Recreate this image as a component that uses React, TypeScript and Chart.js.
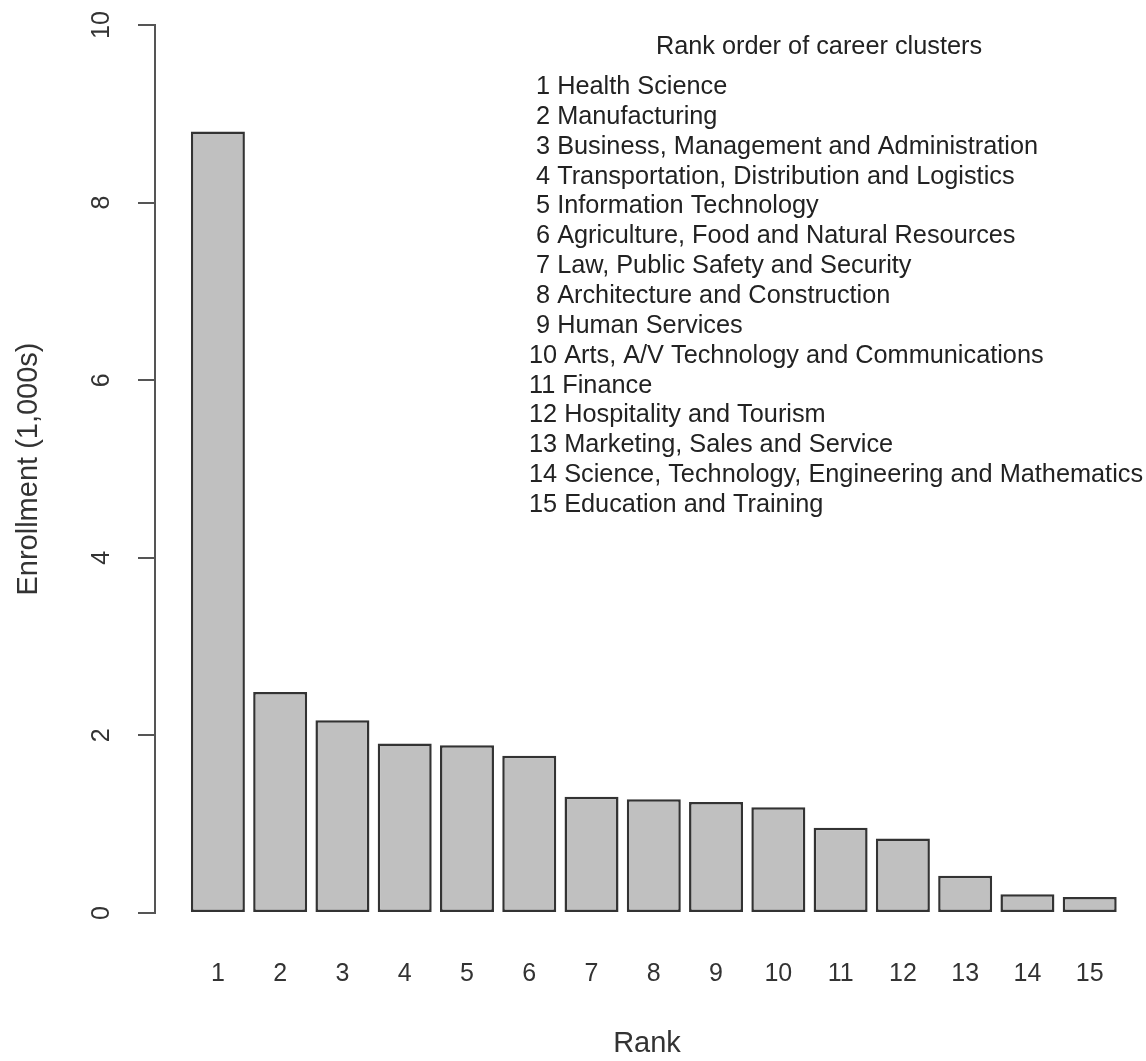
import React, { useEffect, useRef } from 'react';
import { Chart, registerables } from 'chart.js';

Chart.register(...registerables);

// ---- data ----
const ranks: string[] = ['1', '2', '3', '4', '5', '6', '7', '8', '9', '10', '11', '12', '13', '14', '15'];
const enrollment: number[] = [8.8, 2.49, 2.17, 1.91, 1.89, 1.77, 1.31, 1.28, 1.25, 1.19, 0.96, 0.84, 0.42, 0.21, 0.18];
const clusterNames: string[] = [
  'Health Science',
  'Manufacturing',
  'Business, Management and Administration',
  'Transportation, Distribution and Logistics',
  'Information Technology',
  'Agriculture, Food and Natural Resources',
  'Law, Public Safety and Security',
  'Architecture and Construction',
  'Human Services',
  'Arts, A/V Technology and Communications',
  'Finance',
  'Hospitality and Tourism',
  'Marketing, Sales and Service',
  'Science, Technology, Engineering and Mathematics',
  'Education and Training',
];
const yTickValues: number[] = [0, 2, 4, 6, 8, 10];
const legendTitle = 'Rank order of career clusters';
const xTitle = 'Rank';
const yTitle = 'Enrollment (1,000s)';

// R barplot layout: bar width 1, space 0.2
const BAR_WIDTH = 1;
const BAR_SPACE = 0.2;
const barCenters = ranks.map((_, i) => BAR_SPACE + BAR_WIDTH / 2 + i * (BAR_WIDTH + BAR_SPACE));

const FONT = '"Liberation Sans", Arial, Helvetica, sans-serif';

const legendPlugin = {
  id: 'clusterLegend',
  afterDraw(chart: any) {
    const ctx = chart.ctx;
    ctx.save();
    ctx.font = `25.3px ${FONT}`;
    ctx.fillStyle = '#222';
    ctx.textBaseline = 'middle';
    ctx.textAlign = 'center';
    ctx.fillText(legendTitle, 819, 47);
    ctx.textAlign = 'left';
    clusterNames.forEach((name, i) => {
      const label = `${ranks[i].padStart(2, ' ')} ${name}`;
      ctx.fillText(label, 529, 87 + i * 29.86);
    });
    ctx.restore();
  },
};

export default function App() {
  const canvasRef = useRef<HTMLCanvasElement | null>(null);

  useEffect(() => {
    document.body.style.margin = '0';
    const canvas = canvasRef.current;
    if (!canvas) return;
    Chart.defaults.font.family = FONT;
    const chart = new Chart(canvas, {
      type: 'bar',
      data: {
        datasets: [
          {
            data: barCenters.map((x, i) => ({ x, y: enrollment[i] })),
            backgroundColor: '#c0c0c0',
            borderColor: '#333333',
            borderWidth: 2.5,
            borderSkipped: false,
            barPercentage: 1,
            categoryPercentage: 0.867,
          } as any,
        ],
      },
      options: {
        animation: false,
        responsive: true,
        maintainAspectRatio: false,
        layout: { padding: { top: 25, right: 7, left: 0, bottom: 0 } },
        plugins: {
          legend: { display: false },
          tooltip: { enabled: false },
        },
        scales: {
          x: {
            type: 'linear',
            offset: false,
            min: -0.512,
            max: 18.45,
            afterBuildTicks: (s: any) => {
              s.ticks = barCenters.map((v) => ({ value: v }));
            },
            ticks: {
              callback: (_v: any, i: number) => ranks[i],
              font: { size: 25 },
              color: '#333',
              padding: 46,
              autoSkip: false,
              maxRotation: 0,
              minRotation: 0,
            },
            grid: { display: false, drawTicks: false, offset: false },
            border: { display: false },
            title: {
              display: true,
              text: xTitle,
              font: { size: 29 },
              color: '#333',
              padding: { top: 0, bottom: 0 },
            },
            afterFit: (s: any) => {
              s.height = 148;
              s.paddingLeft = 0;
              s.paddingRight = 0;
            },
          },
          y: {
            min: 0,
            max: 10,
            afterBuildTicks: (s: any) => {
              s.ticks = yTickValues.map((v) => ({ value: v }));
            },
            ticks: {
              minRotation: 90,
              maxRotation: 90,
              crossAlign: 'center',
              padding: 22,
              font: { size: 25 },
              color: '#333',
            },
            grid: {
              drawOnChartArea: false,
              drawTicks: true,
              tickLength: 17,
              color: '#555',
              lineWidth: 2,
            },
            border: { display: true, color: '#555', width: 2 },
            title: {
              display: true,
              text: yTitle,
              font: { size: 29 },
              color: '#333',
              padding: { top: 12, bottom: 0 },
            },
            afterFit: (s: any) => {
              s.width = 155;
              s.paddingTop = 0;
              s.paddingBottom = 0;
            },
          },
        },
      } as any,
      plugins: [legendPlugin],
    });
    return () => chart.destroy();
  }, []);

  return (
    <div style={{ position: 'relative', width: 1146, height: 1061 }}>
      <canvas ref={canvasRef} />
    </div>
  );
}
